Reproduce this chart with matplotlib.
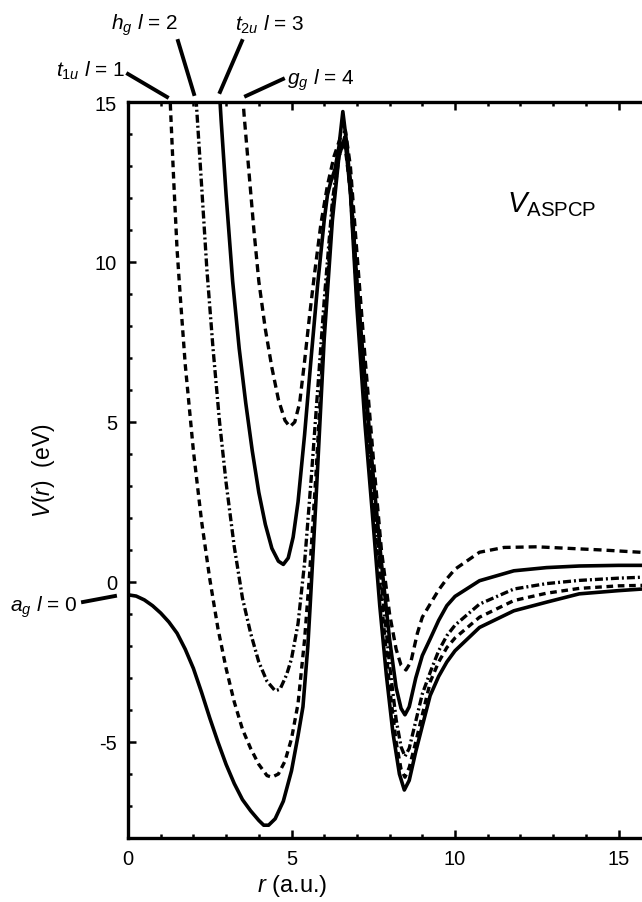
import matplotlib
matplotlib.use('Agg')
import matplotlib.pyplot as plt
from matplotlib.lines import Line2D
from matplotlib.ticker import MultipleLocator

plt.rcParams['font.family'] = ['Liberation Sans', 'DejaVu Sans']
plt.rcParams['mathtext.fontset'] = 'custom'
plt.rcParams['mathtext.rm'] = 'Liberation Sans'
plt.rcParams['mathtext.it'] = 'Liberation Sans:italic'
plt.rcParams['axes.unicode_minus'] = False

# a_g, l = 0 (solid)
r_ag = [0.0, 0.25, 0.5, 0.75, 1.0, 1.25, 1.5, 1.75, 2.0, 2.25, 2.5, 2.75, 3.0,
        3.25, 3.5, 3.75, 4.0, 4.15, 4.3, 4.5, 4.75, 5.0, 5.2, 5.35, 5.5, 5.57,
        5.75, 6.0, 6.25, 6.45, 6.63, 6.8, 7.0, 7.25, 7.5, 7.7, 7.9, 8.1, 8.3,
        8.45, 8.6, 8.8, 9.0, 9.24, 9.5, 9.75, 10.0, 10.75, 11.8, 12.8, 13.8,
        15.0, 16.0]
v_ag = [-0.40, -0.44, -0.56, -0.74, -0.97, -1.25, -1.6, -2.1, -2.7, -3.45,
        -4.25, -5.0, -5.7, -6.3, -6.8, -7.15, -7.45, -7.6, -7.6, -7.4, -6.85,
        -5.9, -4.8, -3.9, -2.0, -0.75, 2.6, 7.6, 11.3, 13.3, 13.9, 12.2, 8.6,
        4.9, 1.8, -0.75, -2.9, -4.7, -6.0, -6.5, -6.2, -5.3, -4.5, -3.55,
        -2.95, -2.5, -2.15, -1.42, -0.9, -0.63, -0.37, -0.27, -0.2]

# t_1u, l = 1 (dashed)
r_t1u = [1.25, 1.3, 1.4, 1.5, 1.6, 1.75, 2.0, 2.25, 2.5, 2.75, 3.0, 3.25, 3.5,
         3.75, 4.0, 4.25, 4.4, 4.6, 4.8, 5.0, 5.2, 5.4, 5.55, 5.75, 6.0, 6.25,
         6.45, 6.62, 6.8, 7.0, 7.25, 7.5, 7.75, 8.0, 8.2, 8.35, 8.47, 8.6, 8.8,
         9.0, 9.25, 9.5, 9.75, 10.0, 10.75, 11.8, 12.8, 13.8, 15.0, 16.0]
v_t1u = [16.0, 14.8, 12.5, 10.4, 8.9, 6.8, 4.1, 1.9, 0.1, -1.45, -2.7, -3.75,
         -4.6, -5.2, -5.7, -6.05, -6.1, -6.0, -5.6, -4.9, -3.8, -1.8, 0.2, 3.4,
         8.0, 11.6, 13.3, 13.8, 12.2, 8.9, 5.5, 2.4, -0.6, -3.3, -5.0, -5.85,
         -6.1, -5.8, -5.0, -4.15, -3.1, -2.5, -2.05, -1.75, -1.1, -0.58, -0.35,
         -0.2, -0.12, -0.1]

# h_g, l = 2 (dash-dot)
r_hg = [2.05, 2.1, 2.25, 2.41, 2.6, 2.8, 3.0, 3.25, 3.5, 3.75, 4.0, 4.25, 4.5,
        4.65, 4.85, 5.0, 5.2, 5.4, 5.6, 5.8, 6.0, 6.25, 6.45, 6.63, 6.8, 7.0,
        7.25, 7.5, 7.75, 8.0, 8.2, 8.35, 8.47, 8.6, 8.8, 9.0, 9.25, 9.5, 9.75,
        10.0, 10.75, 11.8, 12.8, 13.8, 15.0, 16.0]
v_hg = [15.6, 14.8, 12.4, 9.8, 7.3, 5.0, 3.1, 1.1, -0.5, -1.6, -2.5, -3.1,
        -3.4, -3.35, -2.9, -2.4, -1.3, 0.6, 3.2, 6.0, 8.8, 11.9, 13.4, 13.9,
        12.6, 9.4, 6.0, 2.9, 0.0, -2.6, -4.3, -5.15, -5.45, -5.2, -4.35, -3.5,
        -2.8, -2.15, -1.68, -1.35, -0.69, -0.22, -0.05, 0.05, 0.12, 0.16]

# t_2u, l = 3 (solid)
r_t2u = [2.78, 2.85, 3.0, 3.2, 3.4, 3.6, 3.8, 4.0, 4.2, 4.4, 4.6, 4.75, 4.9,
         5.05, 5.2, 5.4, 5.6, 5.8, 6.0, 6.1, 6.2, 6.33, 6.45, 6.57, 6.7, 6.85,
         7.0, 7.25, 7.5, 7.75, 8.0, 8.2, 8.35, 8.47, 8.6, 8.8, 9.0, 9.24, 9.5,
         9.75, 10.0, 10.75, 11.8, 12.8, 13.8, 15.0, 16.0]
v_t2u = [15.6, 14.4, 12.1, 9.4, 7.3, 5.6, 4.1, 2.8, 1.8, 1.05, 0.65, 0.55,
         0.75, 1.4, 2.5, 4.6, 7.0, 9.3, 11.3, 12.1, 12.5, 12.9, 13.6, 14.7,
         13.6, 11.6, 9.4, 6.3, 3.3, 0.6, -1.8, -3.3, -3.95, -4.15, -3.9, -3.0,
         -2.3, -1.78, -1.2, -0.74, -0.45, 0.04, 0.35, 0.45, 0.5, 0.52, 0.52]

# g_g, l = 4 (dashed)
r_gg = [3.48, 3.55, 3.7, 3.85, 4.0, 4.2, 4.4, 4.6, 4.8, 4.95, 5.1, 5.25, 5.4,
        5.55, 5.7, 5.9, 6.1, 6.3, 6.5, 6.65, 6.8, 7.0, 7.25, 7.5, 7.75, 8.0,
        8.2, 8.35, 8.5, 8.65, 8.85, 9.0, 9.24, 9.5, 9.75, 10.0, 10.75, 11.5,
        12.5, 13.5, 14.5, 15.66, 16.0]
v_gg = [15.6, 14.6, 12.8, 11.0, 9.4, 7.9, 6.7, 5.7, 5.05, 4.85, 5.0, 5.6, 6.9,
        8.3, 9.6, 11.2, 12.4, 13.3, 13.9, 14.1, 13.0, 10.3, 7.0, 3.9, 1.0,
        -1.0, -2.1, -2.6, -2.75, -2.5, -1.6, -1.1, -0.69, -0.25, 0.1, 0.4,
        0.93, 1.08, 1.1, 1.05, 1.0, 0.93, 0.9]

W, H = 642, 903


def px(x, y):
    # pixel position (from top-left) to figure fraction
    return x / W, 1 - y / H


fig = plt.figure(figsize=(W / 100, H / 100), dpi=100)
ax = fig.add_axes([128 / W, 1 - 839 / H, 16 * 32.7 / W, (839 - 103) / H])

ax.plot(r_ag, v_ag, color='black', lw=2.6)
ax.plot(r_t1u, v_t1u, color='black', lw=2.4, dashes=(2.0, 1.4))
ax.plot(r_hg, v_hg, color='black', lw=2.4, dashes=(2.4, 0.9, 0.6, 0.9))
ax.plot(r_t2u, v_t2u, color='black', lw=2.6)
ax.plot(r_gg, v_gg, color='black', lw=2.4, dashes=(2.4, 1.5))

ax.set_xlim(0, 16)
ax.set_ylim(-8, 15)
ax.xaxis.set_major_locator(MultipleLocator(5))
ax.xaxis.set_minor_locator(MultipleLocator(1))
ax.yaxis.set_major_locator(MultipleLocator(5))
ax.yaxis.set_minor_locator(MultipleLocator(1))
ax.tick_params(which='both', direction='in', top=True, right=False,
               labelsize=14.5, pad=8, width=1.8)
ax.tick_params(which='major', length=6)
ax.tick_params(which='minor', length=3)
for s in ax.spines.values():
    s.set_linewidth(2.4)

ax.set_ylabel(r'$V(r)$  (eV)', fontsize=16.5)
ax.yaxis.set_label_coords(-0.135, 0.5)
fig.text(*px(292, 886), r'$r$ (a.u.)', fontsize=17, ha='center', va='center')

fig.text(*px(552, 205), r'$V_{\mathrm{ASPCP}}$', fontsize=21,
         ha='center', va='center')

# curve labels with pointer lines
labels = [
    (r'$t_{1u}$ $l$ = 1', (125, 71), 'right', [(128, 75), (167, 98)]),
    (r'$h_g$ $l$ = 2', (145, 25), 'center', [(178, 42), (194, 95)]),
    (r'$t_{2u}$ $l$ = 3', (270, 25), 'center', [(242, 42), (220, 93)]),
    (r'$g_g$ $l$ = 4', (287, 80), 'left', [(283, 80), (246, 97)]),
    (r'$a_g$ $l$ = 0', (77, 607), 'right', [(83, 603), (115, 597)]),
]
for txt, pos, ha, seg in labels:
    fig.text(*px(*pos), txt, fontsize=15, ha=ha, va='center')
    (x0, y0), (x1, y1) = px(*seg[0]), px(*seg[1])
    fig.add_artist(Line2D([x0, x1], [y0, y1], color='black', lw=2.8,
                          transform=fig.transFigure))

fig.savefig('out.png', dpi=100)
